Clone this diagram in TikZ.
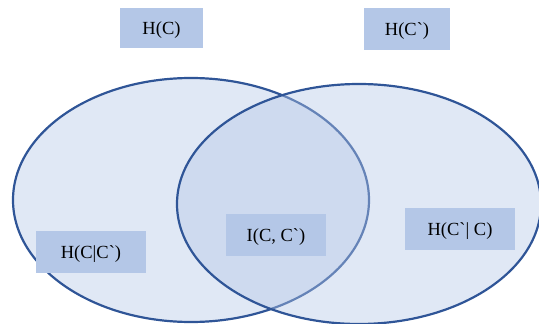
\documentclass[tikz,border=0pt]{standalone}
\usepackage{fontspec}
\setmainfont{Liberation Serif}[Ligatures=TeXOff]
\usepackage{tikz}
\usetikzlibrary{positioning}

\definecolor{setline}{HTML}{2F5597}
\definecolor{setfill}{HTML}{B4C7E7}
\tikzset{
  setarea/.style={fill=setfill, fill opacity=0.41, draw=setline, line width=2.2pt},
  infobox/.style={fill=setfill, inner sep=0pt, minimum height=42pt,
    text depth=0pt, font=\fontsize{18.5}{20}\selectfont}
}

\begin{document}
\begin{tikzpicture}[x=1pt, y=-1pt]
  \useasboundingbox (0,0) rectangle (539,324);
  % the two entropy sets
  \path[setarea] (191,200) ellipse [x radius=178, y radius=122];
  \path[setarea] (359,204) ellipse [x radius=182, y radius=120];

  \node (hc) [infobox, minimum width=83pt, minimum height=40pt] at (161.5,28) {H(C)};
  \node (hcc) [infobox, minimum width=86pt] at (407,29) {H(C`)};
  \node (hcgc) [infobox, minimum width=110pt] at (91,252) {H(C|C`)};
  \node (icc) [infobox, minimum width=100pt] at (276,235) {I(C, C`)};
  \node (hccg) [infobox, minimum width=110pt] at (460,229) {H(C`| C)};
\end{tikzpicture}
\end{document}
